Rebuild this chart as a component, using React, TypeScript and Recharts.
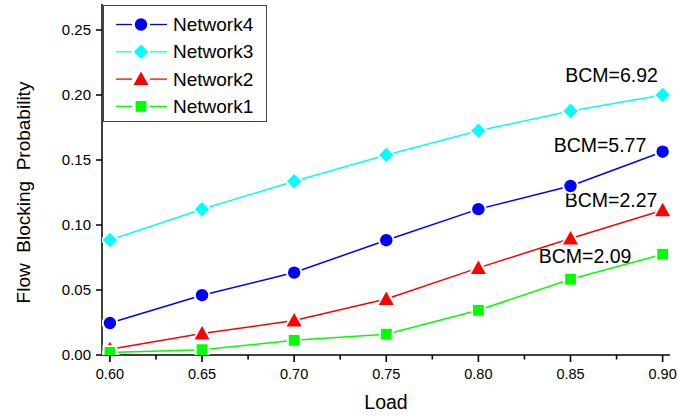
import React from 'react';
import { LineChart, Line, XAxis, YAxis, ReferenceDot, Legend } from 'recharts';

const loads = [0.6, 0.65, 0.7, 0.75, 0.8, 0.85, 0.9];
const network4 = [0.0246, 0.046, 0.0634, 0.0883, 0.1122, 0.130, 0.1564];
const network3 = [0.0885, 0.1121, 0.1337, 0.1538, 0.1725, 0.1877, 0.2];
const network2 = [0.0044, 0.0165, 0.0265, 0.0431, 0.067, 0.0896, 0.1114];
const network1 = [0.002, 0.0041, 0.0113, 0.016, 0.0344, 0.0583, 0.0775];

const xTicks = [0.6, 0.625, 0.65, 0.675, 0.7, 0.725, 0.75, 0.775, 0.8, 0.825, 0.85, 0.875, 0.9];
const xMajor = [0.6, 0.65, 0.7, 0.75, 0.8, 0.85, 0.9];
const yTicks = [0, 0.05, 0.1, 0.15, 0.2, 0.25];

const annotations = [
  { text: 'BCM=6.92', x: 0.8723, y: 0.2097 },
  { text: 'BCM=5.77', x: 0.866, y: 0.1558 },
  { text: 'BCM=2.27', x: 0.872, y: 0.1135 },
  { text: 'BCM=2.09', x: 0.8579, y: 0.0704 },
];

const series = [
  { key: 'n4', name: 'Network4', color: '#0000FF', shape: 'circle', values: network4 },
  { key: 'n3', name: 'Network3', color: '#00FFFF', shape: 'diamond', values: network3 },
  { key: 'n2', name: 'Network2', color: '#FF0000', shape: 'triangle', values: network2 },
  { key: 'n1', name: 'Network1', color: '#00FF00', shape: 'square', values: network1 },
];

const data = loads.map((l, i) => {
  const row: any = { load: l };
  series.forEach((s) => (row[s.key] = s.values[i]));
  return row;
});

const FONT = '"Liberation Sans", Arial, sans-serif';

function Marker({ shape, cx, cy, color, outline = true }: any) {
  const common: any = {
    fill: color,
    stroke: outline ? '#fff' : 'none',
    strokeWidth: outline ? 4 : 0,
    style: { paintOrder: 'stroke' },
  };
  if (cx == null || cy == null) return null;
  switch (shape) {
    case 'circle':
      return <circle cx={cx} cy={cy} r={6.2} {...common} />;
    case 'diamond':
      return <polygon points={`${cx},${cy - 7.2} ${cx + 7.2},${cy} ${cx},${cy + 7.2} ${cx - 7.2},${cy}`} {...common} />;
    case 'triangle':
      return <polygon points={`${cx},${cy - 7.5} ${cx + 7.5},${cy + 6} ${cx - 7.5},${cy + 6}`} {...common} />;
    default:
      return <rect x={cx - 5.4} y={cy - 5.4} width={10.8} height={10.8} {...common} />;
  }
}

function XTick(props: any) {
  const { x, y, payload } = props;
  const v = payload.value;
  const major = xMajor.some((m) => Math.abs(m - v) < 1e-6);
  return (
    <g>
      <line x1={x} x2={x} y1={y} y2={y + (major ? 7 : 4.5)} stroke="#000" strokeWidth={1.6} />
      {major && (
        <text x={x} y={y + 24} textAnchor="middle" fontSize={14.5} fontFamily={FONT} fill="#000">
          {v.toFixed(2)}
        </text>
      )}
    </g>
  );
}

function LegendBox() {
  return (
    <div
      style={{
        width: 164,
        height: 117,
        border: '1.3px solid #444',
        background: '#fff',
        boxSizing: 'border-box',
      }}
    >
      <svg width={162} height={115} style={{ display: 'block' }}>
        {series.map((s, i) => {
          const cy = 18.5 + i * 27.3;
          return (
            <g key={s.key}>
              <line x1={12} x2={28} y1={cy} y2={cy} stroke={s.color} strokeWidth={1.3} />
              <line x1={46} x2={63} y1={cy} y2={cy} stroke={s.color} strokeWidth={1.3} />
              <Marker shape={s.shape} cx={37} cy={cy} color={s.color} outline={false} />
              <text x={69} y={cy + 6.5} fontSize={19} fontFamily={FONT} fill="#000">
                {s.name}
              </text>
            </g>
          );
        })}
      </svg>
    </div>
  );
}

export default function App() {
  return (
    <div style={{ position: 'absolute', left: 0, top: 0, width: 678, height: 418, background: '#fff' }}>
      <LineChart width={678} height={418} data={data} margin={{ top: 4, right: 8, bottom: 0, left: 0 }}>
        <XAxis
          dataKey="load"
          type="number"
          domain={[0.5957, 0.904]}
          ticks={xTicks}
          allowDataOverflow
          interval={0}
          height={63}
          tickSize={0}
          tickMargin={0}
          tickLine={false}
          axisLine={{ stroke: '#000', strokeWidth: 1.5 }}
          tick={<XTick />}
          label={(p: any) => {
            const vb = p.viewBox;
            return (
              <text x={vb.x + vb.width / 2} y={409} textAnchor="middle" fontSize={19.5} fontFamily={FONT} fill="#000">
                Load
              </text>
            );
          }}
        />
        <XAxis xAxisId="top" orientation="top" dataKey="load" type="number" domain={[0.5957, 0.904]} height={0}
          tick={false} tickLine={false} axisLine={{ stroke: '#000', strokeWidth: 1.5 }} />
        <YAxis
          type="number"
          domain={[0, 0.27]}
          ticks={yTicks}
          allowDataOverflow
          width={102}
          tickSize={6}
          tickMargin={5}
          tickFormatter={(v: number) => v.toFixed(2)}
          tick={{ fontSize: 15, fontFamily: FONT, fill: '#000' }}
          tickLine={{ stroke: '#000', strokeWidth: 1.5 }}
          axisLine={{ stroke: '#000', strokeWidth: 1.5 }}
          label={(p: any) => {
            const vb = p.viewBox;
            const cx = 30;
            const cy = vb.y + vb.height / 2 + 13;
            return (
              <text x={cx} y={cy} transform={`rotate(-90 ${cx} ${cy})`} textAnchor="middle" fontSize={19}
                fontFamily={FONT} fill="#000" style={{ whiteSpace: 'pre' }}>
                {'Flow  Blocking  Probability'}
              </text>
            );
          }}
        />
        <YAxis yAxisId="right" orientation="right" type="number" domain={[0, 0.27]} width={0}
          tick={false} tickLine={false} axisLine={{ stroke: '#000', strokeWidth: 1.5 }} />
        {series.map((s) => (
          <Line
            key={s.key}
            dataKey={s.key}
            name={s.name}
            stroke={s.color}
            strokeWidth={1.5}
            type="linear"
            isAnimationActive={false}
            dot={(p: any) => <Marker key={`${s.key}-${p.index}`} shape={s.shape} cx={p.cx} cy={p.cy} color={s.color} />}
            activeDot={false}
          />
        ))}
        {annotations.map((a) => (
          <ReferenceDot
            key={a.text}
            x={a.x}
            y={a.y}
            r={0}
            ifOverflow="visible"
            shape={(p: any) => (
              <text x={p.cx} y={p.cy} textAnchor="middle" fontSize={19.5} fontFamily={FONT} fill="#000">
                {a.text}
              </text>
            )}
          />
        ))}
        <Legend
          layout="vertical"
          align="center"
          verticalAlign="middle"
          wrapperStyle={{ left: 103, top: 5, width: 164, height: 117 }}
          content={() => <LegendBox />}
        />
      </LineChart>
    </div>
  );
}
